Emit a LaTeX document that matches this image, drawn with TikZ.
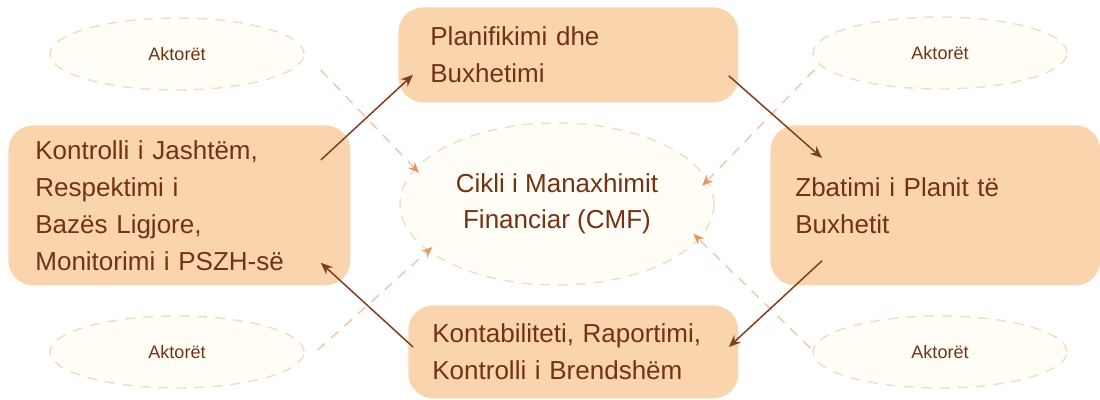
\documentclass[tikz,border=0pt]{standalone}
\usepackage{fontspec}
\setmainfont{Liberation Sans}
\usetikzlibrary{arrows.meta,shapes.geometric}

\definecolor{boxfill}{RGB}{250,212,172}
\definecolor{textbrown}{RGB}{114,50,20}
\definecolor{flowbrown}{RGB}{128,62,32}
\definecolor{ovalfill}{RGB}{255,253,245}
\definecolor{ovaldash}{RGB}{236,224,196}
\definecolor{linkdash}{RGB}{240,196,168}
\definecolor{linktip}{RGB}{230,150,100}

\begin{document}
\begin{tikzpicture}[x=0.5pt,y=-0.5pt,
  stagebox/.style={draw=none, fill=boxfill, rounded corners=12.5pt,
    align=left, text=textbrown, font=\fontsize{13}{18.5}\selectfont,
    inner ysep=0pt, anchor=north west},
  actoroval/.style={ellipse, draw=ovaldash, fill=ovalfill,
    dash pattern=on 5pt off 4pt, line width=0.7pt, inner sep=0pt,
    minimum width=127pt, minimum height=36pt, text=textbrown,
    font=\fontsize{9}{11}\selectfont},
  cycleoval/.style={ellipse, draw=ovaldash, fill=ovalfill,
    dash pattern=on 5pt off 4pt, line width=0.7pt, inner sep=0pt,
    minimum width=157pt, minimum height=81pt, text=textbrown, align=center,
    font=\fontsize{13}{18}\selectfont},
  flow/.style={draw=flowbrown, line width=0.75pt,
    -{Stealth[length=6pt,width=5pt,fill=flowbrown]}},
  actorlink/.style={draw=linkdash, line width=0.7pt,
    dash pattern=on 5pt off 4pt,
    -{Stealth[length=5.5pt,width=4.5pt,color=linktip]}}
]
\useasboundingbox (0,0) rectangle (1100,400);

% actor ovals and the central cycle
\node[actoroval] (a1) at (177,54) {Aktorët};
\node[actoroval] (a2) at (940,53) {Aktorët};
\node[actoroval] (a3) at (177,352) {Aktorët};
\node[actoroval] (a4) at (940,352) {Aktorët};
\node[cycleoval] (cmf) at (557,204) {Cikli i Manaxhimit\\Financiar (CMF)};

% actors feed into the cycle
\draw[actorlink, shorten >=-3pt] ([shift={(16,16)}]a1.east) -- (cmf.166);
\draw[actorlink, shorten >=-4pt] ([shift={(2,17)}]a2.west) -- (cmf.9);
\draw[actorlink, shorten >=-3pt] ([shift={(13,-2)}]a3.east) -- (cmf.-160);
\draw[actorlink, shorten >=-4pt] ([shift={(-2,-4)}]a4.west) -- (cmf.-14);

% stages of the cycle
\node[stagebox, minimum height=47.5pt, inner xsep=16pt, text width=138pt]
  (plan) at (398,7) {Planifikimi dhe\\Buxhetimi};
\node[stagebox, minimum height=80pt, inner xsep=13.5pt, text width=144pt]
  (ctrl) at (8,125) {Kontrolli i Jashtëm,\\Respektimi i\\Bazës Ligjore,\\Monitorimi i PSZH-së};
\node[stagebox, minimum height=80pt, inner xsep=12.5pt, text width=140pt]
  (exec) at (770,125) {Zbatimi i Planit të\\Buxhetit};
\node[stagebox, minimum height=46.5pt, inner xsep=12pt, text width=141pt]
  (acct) at (408,305) {Kontabiliteti, Raportimi,\\Kontrolli i Brendshëm};

% clockwise flow between the stages
\draw[flow] ([shift={(-30,35)}]ctrl.north east) -- ([shift={(15,-28)}]plan.south west);
\draw[flow] ([shift={(-10,-27)}]plan.south east) -- ([shift={(52,33)}]exec.north west);
\draw[flow] ([shift={(52,-25)}]exec.south west) -- ([shift={(-10,42)}]acct.north east);
\draw[flow] ([shift={(5,42)}]acct.north west) -- ([shift={(-30,-23)}]ctrl.south east);
\end{tikzpicture}
\end{document}
